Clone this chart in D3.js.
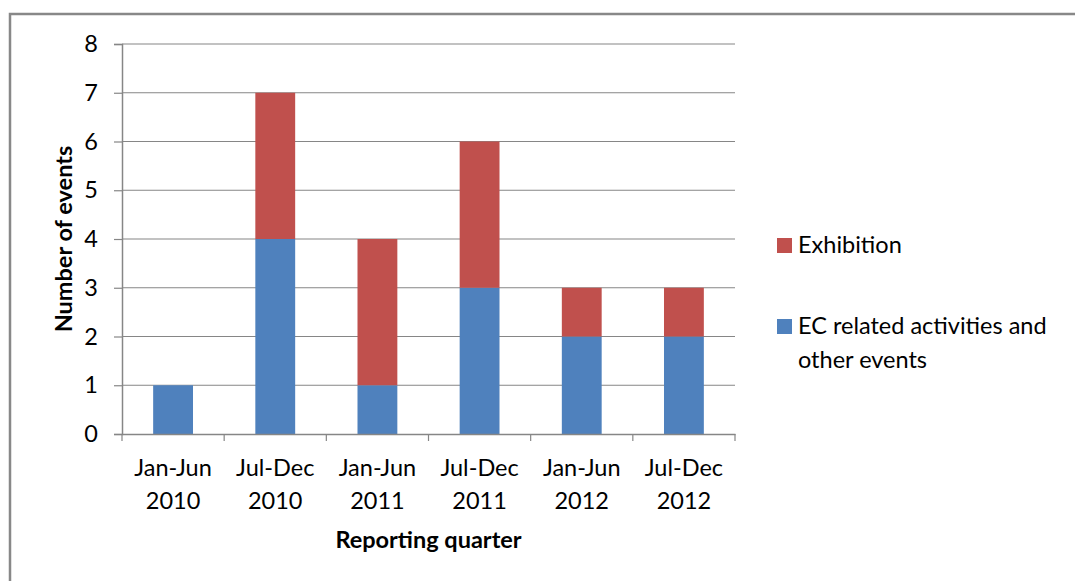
<!DOCTYPE html>
<html>
<head>
<meta charset="utf-8">
<script src="https://cdn.jsdelivr.net/npm/d3@7"></script>
<style>
  body { margin: 0; background: #fff; }
  svg text { font-family: Lato, "Open Sans", sans-serif; fill: #000; }
</style>
</head>
<body>
<svg id="chart" width="1075" height="581"></svg>
<script>
// data
const quarters = ["Jan-Jun 2010", "Jul-Dec 2010", "Jan-Jun 2011", "Jul-Dec 2011", "Jan-Jun 2012", "Jul-Dec 2012"];
const ecEvents = [1, 4, 1, 3, 2, 2];
const exhibition = [0, 3, 3, 3, 1, 1];
const yTicks = [0, 1, 2, 3, 4, 5, 6, 7, 8];

const seriesNames = ["EC related activities and other events", "Exhibition"];
const colors = ["#4F81BD", "#C0504D"];

const fontSize = "23.5px";
const svg = d3.select("#chart");

// outer frame (right and bottom edges run off the picture)
svg.append("rect")
  .attr("x", 10).attr("y", 14)
  .attr("width", 1080).attr("height", 590)
  .attr("fill", "none")
  .attr("stroke", "#888")
  .attr("stroke-width", 2.5);

const plotLeft = 122, plotRight = 735, plotTop = 44, plotBottom = 434;

const x = d3.scaleBand().domain(quarters).range([plotLeft, plotRight]);
const xBar = d3.scaleBand().domain(quarters).range([plotLeft, plotRight])
  .paddingInner(0.61).paddingOuter(0.305);
const y = d3.scaleLinear().domain([0, 8]).range([plotBottom, plotTop]);

// gridlines
svg.append("g").selectAll("line")
  .data(yTicks.filter(d => d > 0))
  .enter().append("line")
  .attr("x1", plotLeft).attr("x2", plotRight)
  .attr("y1", d => y(d)).attr("y2", d => y(d))
  .attr("stroke", "#868686").attr("stroke-width", 1.2);

// stacked bars
const rows = quarters.map((q, i) => ({ q: q, ec: ecEvents[i], ex: exhibition[i] }));
const stack = d3.stack().keys(["ec", "ex"])(rows);

svg.append("g").selectAll("g")
  .data(stack)
  .enter().append("g")
  .attr("fill", (d, i) => colors[i])
  .selectAll("rect")
  .data(d => d)
  .enter().append("rect")
  .attr("x", d => xBar(d.data.q))
  .attr("width", xBar.bandwidth())
  .attr("y", d => y(d[1]))
  .attr("height", d => y(d[0]) - y(d[1]));

// y axis
const yAxis = d3.axisLeft(y).tickValues(yTicks).tickSize(8).tickPadding(16);
const gy = svg.append("g").attr("transform", "translate(" + plotLeft + ",0)").call(yAxis);
gy.select(".domain").attr("stroke", "#868686").attr("stroke-width", 1.5);
gy.selectAll(".tick line").attr("stroke", "#868686").attr("stroke-width", 1.2);
gy.selectAll("text").style("font-size", fontSize).attr("fill", "#000");

// x axis
const xAxis = d3.axisBottom(x).tickSize(0).tickFormat("");
const gx = svg.append("g").attr("transform", "translate(0," + plotBottom + ")").call(xAxis);
gx.select(".domain").attr("stroke", "#868686").attr("stroke-width", 1.5);
gx.selectAll(".tick").remove();

// category boundary ticks
const bounds = quarters.map(q => x(q)).concat([plotRight]);
svg.append("g").selectAll("line")
  .data(bounds)
  .enter().append("line")
  .attr("x1", d => d).attr("x2", d => d)
  .attr("y1", plotBottom).attr("y2", plotBottom + 7)
  .attr("stroke", "#868686").attr("stroke-width", 1.2);

// x labels on two lines
const xl = svg.append("g").selectAll("text")
  .data(quarters)
  .enter().append("text")
  .attr("text-anchor", "middle")
  .style("font-size", fontSize);
xl.append("tspan")
  .attr("x", d => x(d) + x.bandwidth() / 2).attr("y", 476)
  .text(d => d.split(" ")[0]);
xl.append("tspan")
  .attr("x", d => x(d) + x.bandwidth() / 2).attr("y", 509)
  .text(d => d.split(" ")[1]);

// axis titles
svg.append("text")
  .attr("x", (plotLeft + plotRight) / 2).attr("y", 548)
  .attr("text-anchor", "middle")
  .style("font-size", fontSize).style("font-weight", "bold")
  .text("Reporting quarter");

svg.append("text")
  .attr("transform", "translate(72," + ((plotTop + plotBottom) / 2) + ") rotate(-90)")
  .attr("text-anchor", "middle")
  .style("font-size", fontSize).style("font-weight", "bold")
  .text("Number of events");

// legend
const legend = [
  { name: seriesNames[1], color: colors[1], y: 238, lines: ["Exhibition"] },
  { name: seriesNames[0], color: colors[0], y: 319, lines: ["EC related activities and", "other events"] }
];
const lg = svg.append("g").selectAll("g").data(legend).enter().append("g");
lg.append("rect")
  .attr("x", 777).attr("y", d => d.y)
  .attr("width", 15).attr("height", 15)
  .attr("fill", d => d.color);
lg.append("text")
  .style("font-size", fontSize)
  .selectAll("tspan")
  .data(d => d.lines.map((l, i) => ({ l: l, y: d.y + 15 + i * 34 })))
  .enter().append("tspan")
  .attr("x", 798).attr("y", d => d.y)
  .text(d => d.l);
</script>
</body>
</html>
